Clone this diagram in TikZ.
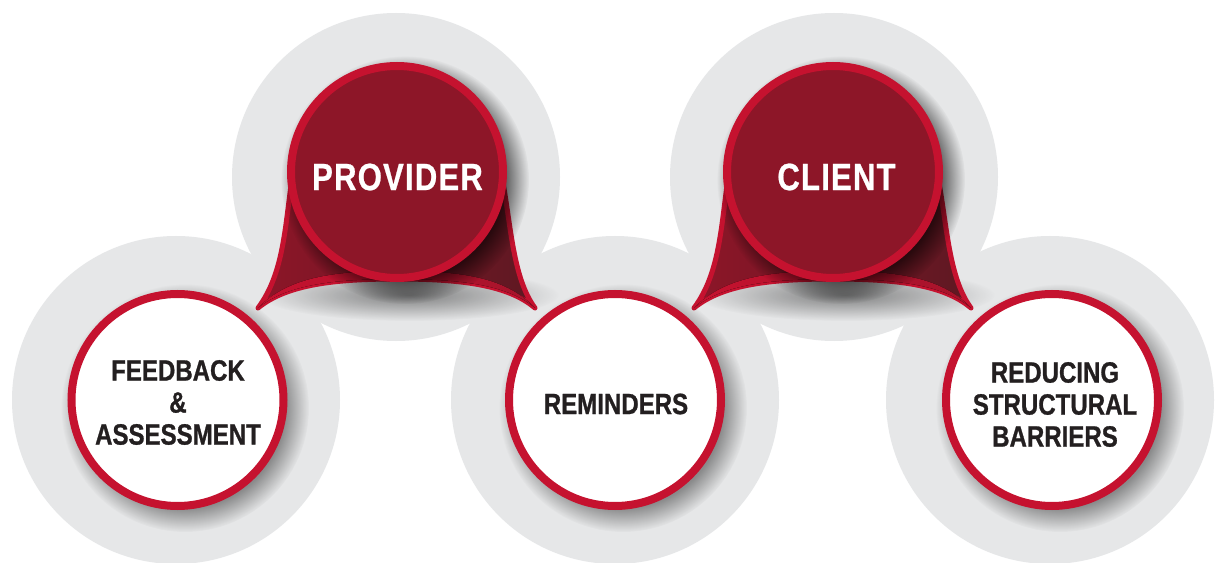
\documentclass[tikz,border=0pt]{standalone}
\usepackage{fontspec}
\usetikzlibrary{fadings}
\newfontfamily\lblfont{Liberation Sans}[FakeStretch=0.82,FakeBold=0.9]
\newfontfamily\headfont{Liberation Sans}[FakeStretch=0.82,FakeBold=0.6,LetterSpace=3]
\definecolor{bggray}{HTML}{E6E7E8}
\definecolor{ringred}{HTML}{C5122F}
\definecolor{deepred}{HTML}{8D1628}
\definecolor{darkred}{HTML}{5E1822}
\definecolor{inkblack}{HTML}{231F20}
\tikzfading[name=haze, inner color=transparent!0, outer color=transparent!100]
\tikzset{
  halo/.style={fill=bggray, draw=none},
  bubble/.style={circle, draw=ringred, line width=6pt, minimum size=159pt, inner sep=0pt},
  topicbox/.style={bubble, fill=deepred},
  itembox/.style={bubble, fill=white},
  topictext/.style={text=white, inner sep=0pt, font=\headfont\bfseries\fontsize{28.5}{30}\selectfont},
  itemtext/.style={text=inkblack, inner sep=0pt, align=center, font=\lblfont\bfseries\fontsize{22}{24}\selectfont},
  softshadow/.style={fill=black, opacity=#1, path fading=circle with fuzzy edge 20 percent},
  skirt/.style={draw=ringred, line width=3.75pt, line join=round, left color=deepred, right color=darkred},
  rim/.style={left color=ringred, right color=ringred!70!darkred, draw=none},
  pics/flare/.style={code={
    % soft shadow cast below the flared base
    \fill[black, opacity=0.45, path fading=haze]
      (12,123) ellipse [x radius=150, y radius=26];
    % flared base of the speech bubble
    \draw[skirt] (-104,0) .. controls (-112,50) and (-112,100) .. (-139,136)
      .. controls (-110,112) and (-60,107) .. (0,107)
      .. controls (60,107) and (110,112) .. (138,136)
      .. controls (115,105) and (114,50) .. (104,0)
      -- (0,-20) -- cycle;
    % thicker bright rim along the lower edge
    \fill[rim] (-139,136)
      .. controls (-110,112) and (-60,107) .. (0,107)
      .. controls (60,107) and (110,112) .. (138,136)
      .. controls (108,104) and (60,99) .. (0,99)
      .. controls (-60,99) and (-108,104) .. cycle;
  }},
}
\begin{document}
\begin{tikzpicture}[x=0.75pt, y=-0.75pt]
\useasboundingbox (0,0) rectangle (1215,563);
\fill[white] (0,0) rectangle (1215,563);

% grey halos behind every bubble
\fill[halo] (176,400) circle [radius=164];
\fill[halo] (396,177) circle [radius=164];
\fill[halo] (615,400) circle [radius=164];
\fill[halo] (834,177) circle [radius=164];
\fill[halo] (1050,400) circle [radius=164];

% flared bases of the two speech bubbles
\pic at (397,172) {flare};
\pic at (833,172) {flare};

% drop shadows
\fill[softshadow=0.6] (405,180) circle [radius=124];
\fill[softshadow=0.6] (841,180) circle [radius=124];
\fill[softshadow=0.4] (185,408) circle [radius=124];
\fill[softshadow=0.4] (623,408) circle [radius=124];
\fill[softshadow=0.4] (1060,408) circle [radius=124];

% bubbles
\node[topicbox] (provider) at (397,172) {};
\node[topicbox] (client) at (833,172) {};
\node[itembox] (feedback) at (177.5,400) {};
\node[itembox] (reminders) at (615,400) {};
\node[itembox] (barriers) at (1052,400) {};

% labels
\node[topictext] (providerlbl) at (397.5,177) {PROVIDER};
\node[topictext] (clientlbl) at (836.5,177) {CLIENT};
\node[itemtext] (feedbacklbl) at (178,402.5) {FEEDBACK\\\&\\ASSESSMENT};
\node[itemtext] (reminderslbl) at (616,404) {REMINDERS};
\node[itemtext] (barrierslbl) at (1055,404.5) {REDUCING\\STRUCTURAL\\BARRIERS};
\end{tikzpicture}
\end{document}
